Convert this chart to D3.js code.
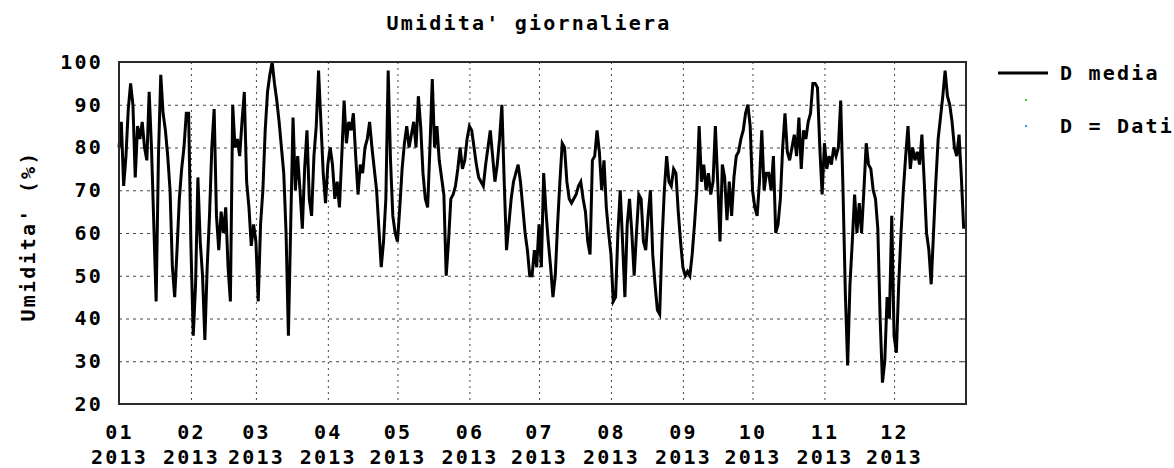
<!DOCTYPE html>
<html>
<head>
<meta charset="utf-8">
<script src="https://cdn.jsdelivr.net/npm/d3@7"></script>
<style>
  body { margin: 0; background: #fff; }
  svg text { font-family: "DejaVu Sans Mono", monospace; font-weight: bold; fill: #000; }
</style>
</head>
<body>
<div id="chart"></div>
<script>
// Daily humidity (%) for 2013, one array per month
const gen = [80, 86, 71, 78, 89, 95, 90, 73, 85, 82, 86, 80, 77, 93, 80, 62, 44, 78, 97, 88, 84, 78, 70, 52, 45, 56, 68, 75, 80, 88, 88];
const feb = [57, 36, 48, 73, 58, 50, 35, 52, 64, 80, 89, 64, 56, 65, 60, 66, 52, 44, 90, 80, 82, 78, 86, 93, 72, 66, 57, 62];
const mar = [58, 44, 62, 70, 84, 93, 97, 100, 95, 91, 86, 80, 74, 60, 36, 62, 87, 70, 78, 70, 61, 75, 84, 68, 64, 78, 85, 98, 86, 74, 67];
const apr = [76, 80, 76, 68, 72, 66, 78, 91, 81, 86, 84, 88, 78, 69, 76, 74, 80, 82, 86, 80, 75, 70, 61, 52, 58, 68, 98, 77, 64, 60];
const mag = [58, 66, 75, 81, 85, 80, 83, 86, 80, 92, 85, 74, 68, 66, 80, 96, 80, 85, 77, 73, 69, 50, 58, 68, 69, 71, 75, 80, 75, 77, 82];
const giu = [85, 84, 80, 76, 73, 72, 71, 76, 80, 84, 78, 72, 76, 82, 90, 72, 56, 62, 68, 72, 74, 76, 72, 66, 60, 56, 50, 50, 56, 52];
const lug = [62, 52, 74, 65, 58, 52, 45, 50, 62, 72, 81, 80, 72, 68, 67, 68, 69, 71, 72, 68, 65, 58, 55, 77, 78, 84, 79, 70, 77, 66, 60];
const ago = [55, 44, 45, 60, 70, 58, 45, 62, 68, 60, 50, 60, 69, 68, 58, 56, 64, 70, 55, 48, 42, 41, 58, 70, 78, 72, 71, 75, 74, 65, 58];
const set = [52, 50, 51, 50, 55, 62, 70, 85, 72, 76, 70, 74, 69, 72, 85, 72, 58, 76, 73, 63, 72, 64, 73, 78, 79, 82, 84, 88, 90, 85];
const ott = [70, 66, 64, 72, 84, 70, 74, 74, 70, 78, 60, 62, 68, 80, 88, 79, 77, 80, 83, 78, 87, 75, 84, 82, 86, 88, 95, 95, 94, 80, 69];
const nov = [81, 75, 78, 76, 80, 78, 80, 91, 70, 46, 29, 48, 58, 69, 60, 67, 60, 70, 81, 76, 75, 70, 68, 61, 40, 25, 30, 45, 40, 64];
const dic = [36, 32, 48, 60, 70, 78, 85, 75, 80, 77, 79, 76, 83, 72, 60, 56, 48, 60, 72, 82, 87, 92, 98, 92, 90, 86, 80, 78, 83, 73, 61];

const monthLabels = ['01', '02', '03', '04', '05', '06', '07', '08', '09', '10', '11', '12'];
const yTicks = [20, 30, 40, 50, 60, 70, 80, 90, 100];
const title = "Umidita' giornaliera";
const yTitle = "Umidita' (%)";
const legendLine = 'D media';
const legendDots = 'D = Dati';

const width = 1174;
const height = 468;
const margin = { top: 62, right: 208, bottom: 64, left: 119 };
const fontSize = 20;
const spacing = 2.2;

const values = [].concat(gen, feb, mar, apr, mag, giu, lug, ago, set, ott, nov, dic);
const start = new Date(2013, 0, 1);
const data = values.map((v, i) => [d3.timeDay.offset(start, i), v]);
const monthStarts = d3.timeMonth.range(start, new Date(2014, 0, 1));

const svg = d3.select('#chart').append('svg')
  .attr('width', width)
  .attr('height', height);

const x = d3.scaleTime()
  .domain([start, new Date(2014, 0, 1)])
  .range([margin.left, width - margin.right]);

const y = d3.scaleLinear()
  .domain([20, 100])
  .range([height - margin.bottom, margin.top]);

const plotLeft = x.range()[0];
const plotRight = x.range()[1];
const plotBottom = y.range()[0];
const plotTop = y.range()[1];

// horizontal grid
svg.append('g')
  .attr('transform', `translate(${plotLeft},0)`)
  .call(d3.axisRight(y).tickValues(yTicks.slice(1, -1)).tickSize(plotRight - plotLeft).tickFormat(''))
  .call(g => g.select('.domain').remove())
  .call(g => g.selectAll('line').attr('stroke', '#444').attr('stroke-dasharray', '3,4'));

// vertical grid at month starts
svg.append('g')
  .attr('transform', `translate(0,${plotTop})`)
  .call(d3.axisBottom(x).tickValues(monthStarts.slice(1)).tickSize(plotBottom - plotTop).tickFormat(''))
  .call(g => g.select('.domain').remove())
  .call(g => g.selectAll('line').attr('stroke', '#444').attr('stroke-dasharray', '2,4'));

// small inner ticks on the right side
svg.append('g')
  .attr('transform', `translate(${plotRight},0)`)
  .call(d3.axisLeft(y).tickValues(yTicks).tickSize(5).tickFormat(''))
  .call(g => g.select('.domain').remove())
  .call(g => g.selectAll('line').attr('stroke', '#333'));

// the line
const line = d3.line()
  .x(d => x(d[0]))
  .y(d => y(d[1]));

svg.append('path')
  .datum(data)
  .attr('fill', 'none')
  .attr('stroke', '#000')
  .attr('stroke-width', 3)
  .attr('d', line);

// plot frame (box), on top of the line
svg.append('rect')
  .attr('x', plotLeft)
  .attr('y', plotTop)
  .attr('width', plotRight - plotLeft)
  .attr('height', plotBottom - plotTop)
  .attr('fill', 'none')
  .attr('stroke', '#2a2a2a')
  .attr('stroke-width', 2);

// y tick labels
svg.append('g')
  .attr('transform', `translate(${plotLeft},0)`)
  .call(d3.axisLeft(y).tickValues(yTicks).tickSize(0).tickPadding(16))
  .call(g => g.select('.domain').remove())
  .call(g => g.selectAll('text')
    .attr('font-size', fontSize)
    .attr('letter-spacing', spacing)
    .attr('fill', '#000'));

// x tick labels, month over year
const xAxis = svg.append('g')
  .attr('transform', `translate(0,${plotBottom})`)
  .call(d3.axisBottom(x).tickValues(monthStarts).tickSize(0).tickFormat(''))
  .call(g => g.select('.domain').remove());

xAxis.selectAll('.tick').each(function (d, i) {
  const t = d3.select(this).append('text')
    .attr('text-anchor', 'middle')
    .attr('font-size', fontSize)
    .attr('letter-spacing', spacing);
  t.append('tspan').attr('x', 0).attr('y', 35).text(monthLabels[i]);
  t.append('tspan').attr('x', 0).attr('y', 60).text(d.getFullYear());
});

// title
svg.append('text')
  .attr('x', 529)
  .attr('y', 30)
  .attr('text-anchor', 'middle')
  .attr('font-size', fontSize)
  .attr('letter-spacing', spacing)
  .text(title);

// y axis title
svg.append('text')
  .attr('transform', `translate(35,${(plotTop + plotBottom) / 2 + 3}) rotate(-90)`)
  .attr('text-anchor', 'middle')
  .attr('font-size', fontSize)
  .attr('letter-spacing', spacing)
  .text(yTitle);

// legend
const legend = svg.append('g');
legend.append('line')
  .attr('x1', 998).attr('x2', 1048)
  .attr('y1', 73).attr('y2', 73)
  .attr('stroke', '#000')
  .attr('stroke-width', 3);
legend.append('text')
  .attr('x', 1060).attr('y', 80)
  .attr('font-size', fontSize)
  .attr('letter-spacing', spacing)
  .text(legendLine);
legend.append('rect')
  .attr('x', 1025).attr('y', 99).attr('width', 2).attr('height', 2)
  .attr('fill', '#3c3');
legend.append('rect')
  .attr('x', 1025).attr('y', 125).attr('width', 2).attr('height', 2)
  .attr('fill', '#39f');
legend.append('text')
  .attr('x', 1060).attr('y', 133)
  .attr('font-size', fontSize)
  .attr('letter-spacing', spacing)
  .text(legendDots);
</script>
</body>
</html>
